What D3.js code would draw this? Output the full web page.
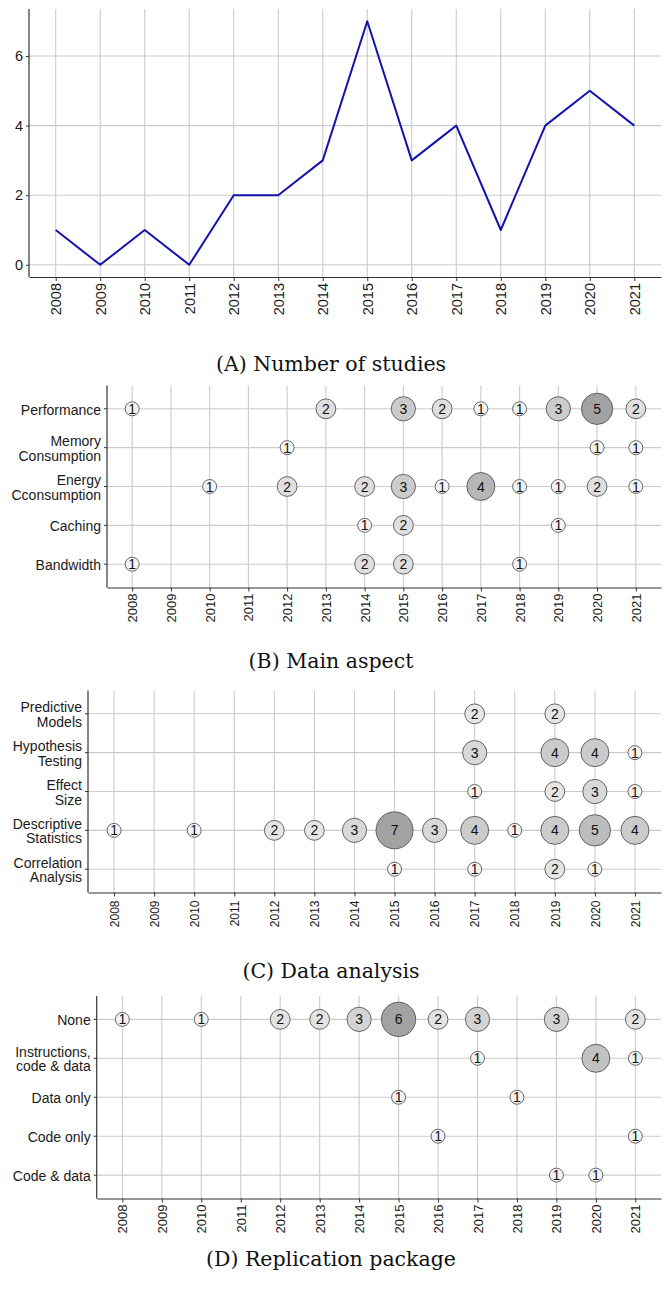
<!DOCTYPE html>
<html>
<head>
<meta charset="utf-8">
<script src="https://cdn.jsdelivr.net/npm/d3@7"></script>
<style>
  body { margin: 0; background: #fff; }
  svg { display: block; }
</style>
</head>
<body>
<svg id="fig" width="667" height="1290"></svg>
<script>
// ---- data ----
const years = [2008, 2009, 2010, 2011, 2012, 2013, 2014, 2015, 2016, 2017, 2018, 2019, 2020, 2021];
const studiesPerYear = [1, 0, 1, 0, 2, 2, 3, 7, 3, 4, 1, 4, 5, 4];
const studyTicks = [0, 2, 4, 6];

const aspectCategories = ["Performance", "Memory\nConsumption", "Energy\nCconsumption", "Caching", "Bandwidth"];
const aspectCounts = [
  ["Performance", 2008, 1], ["Performance", 2013, 2], ["Performance", 2015, 3], ["Performance", 2016, 2],
  ["Performance", 2017, 1], ["Performance", 2018, 1], ["Performance", 2019, 3], ["Performance", 2020, 5],
  ["Performance", 2021, 2],
  ["Memory\nConsumption", 2012, 1], ["Memory\nConsumption", 2020, 1], ["Memory\nConsumption", 2021, 1],
  ["Energy\nCconsumption", 2010, 1], ["Energy\nCconsumption", 2012, 2], ["Energy\nCconsumption", 2014, 2],
  ["Energy\nCconsumption", 2015, 3], ["Energy\nCconsumption", 2016, 1], ["Energy\nCconsumption", 2017, 4],
  ["Energy\nCconsumption", 2018, 1], ["Energy\nCconsumption", 2019, 1], ["Energy\nCconsumption", 2020, 2],
  ["Energy\nCconsumption", 2021, 1],
  ["Caching", 2014, 1], ["Caching", 2015, 2], ["Caching", 2019, 1],
  ["Bandwidth", 2008, 1], ["Bandwidth", 2014, 2], ["Bandwidth", 2015, 2], ["Bandwidth", 2018, 1]
];

const analysisCategories = ["Predictive\nModels", "Hypothesis\nTesting", "Effect\nSize", "Descriptive\nStatistics", "Correlation\nAnalysis"];
const analysisCounts = [
  ["Predictive\nModels", 2017, 2], ["Predictive\nModels", 2019, 2],
  ["Hypothesis\nTesting", 2017, 3], ["Hypothesis\nTesting", 2019, 4], ["Hypothesis\nTesting", 2020, 4],
  ["Hypothesis\nTesting", 2021, 1],
  ["Effect\nSize", 2017, 1], ["Effect\nSize", 2019, 2], ["Effect\nSize", 2020, 3], ["Effect\nSize", 2021, 1],
  ["Descriptive\nStatistics", 2008, 1], ["Descriptive\nStatistics", 2010, 1], ["Descriptive\nStatistics", 2012, 2],
  ["Descriptive\nStatistics", 2013, 2], ["Descriptive\nStatistics", 2014, 3], ["Descriptive\nStatistics", 2015, 7],
  ["Descriptive\nStatistics", 2016, 3], ["Descriptive\nStatistics", 2017, 4], ["Descriptive\nStatistics", 2018, 1],
  ["Descriptive\nStatistics", 2019, 4], ["Descriptive\nStatistics", 2020, 5], ["Descriptive\nStatistics", 2021, 4],
  ["Correlation\nAnalysis", 2015, 1], ["Correlation\nAnalysis", 2017, 1], ["Correlation\nAnalysis", 2019, 2],
  ["Correlation\nAnalysis", 2020, 1]
];

const packageCategories = ["None", "Instructions,\ncode & data", "Data only", "Code only", "Code & data"];
const packageCounts = [
  ["None", 2008, 1], ["None", 2010, 1], ["None", 2012, 2], ["None", 2013, 2], ["None", 2014, 3],
  ["None", 2015, 6], ["None", 2016, 2], ["None", 2017, 3], ["None", 2019, 3], ["None", 2021, 2],
  ["Instructions,\ncode & data", 2017, 1], ["Instructions,\ncode & data", 2020, 4], ["Instructions,\ncode & data", 2021, 1],
  ["Data only", 2015, 1], ["Data only", 2018, 1],
  ["Code only", 2016, 1], ["Code only", 2021, 1],
  ["Code & data", 2019, 1], ["Code & data", 2020, 1]
];

const captions = ["(A) Number of studies", "(B) Main aspect", "(C) Data analysis", "(D) Replication package"];

// ---- shared styling ----
const SANS = "'Liberation Sans', Arial, sans-serif";
const SERIF = "'DejaVu Serif', serif";
const GRID = "#cbcbcb";
const AXIS = "#333";
const TEXT = "#1a1a1a";
const svg = d3.select("#fig");

// bubble radius by count (area proportional to count)
const radius = d3.scaleSqrt().domain([0, 7]).range([0, 18.5]);

function drawXAxis(g, x, bottom, fontSize, gap) {
  const ax = d3.axisBottom(x).tickValues(years).tickFormat(d3.format("d")).tickSize(4).tickSizeOuter(0);
  const a = g.append("g").attr("transform", `translate(0,${bottom})`).call(ax);
  a.select(".domain").attr("stroke", AXIS).attr("stroke-width", 1.2);
  a.selectAll(".tick line").attr("stroke", AXIS).attr("stroke-width", 1);
  a.selectAll(".tick text")
    .attr("font-family", SANS).attr("font-size", fontSize).attr("fill", TEXT)
    .attr("transform", "rotate(-90)")
    .attr("x", -(4 + gap)).attr("y", 0).attr("dy", "0.35em")
    .attr("text-anchor", "end");
}

// ---- panel A: number of studies per year ----
(function () {
  const L = 29, R = 661, T = 9, B = 277;
  const x = d3.scaleLinear().domain([years[0] - 0.6, years[years.length - 1] + 0.6]).range([L, R]);
  const y = d3.scaleLinear().domain([-0.35, 7.35]).range([B, T]);
  const g = svg.append("g");

  g.selectAll("line.gy").data(studyTicks).join("line")
    .attr("x1", L).attr("x2", R).attr("y1", d => y(d)).attr("y2", d => y(d))
    .attr("stroke", GRID).attr("stroke-width", 1.1);
  g.selectAll("line.gx").data(years).join("line")
    .attr("y1", T).attr("y2", B).attr("x1", d => x(d)).attr("x2", d => x(d))
    .attr("stroke", GRID).attr("stroke-width", 1.1);

  const line = d3.line().x((d, i) => x(years[i])).y(d => y(d));
  g.append("path").datum(studiesPerYear).attr("d", line)
    .attr("fill", "none").attr("stroke", "#1212b0").attr("stroke-width", 2).attr("stroke-linejoin", "round");

  const ay = g.append("g").attr("transform", `translate(${L},0)`)
    .call(d3.axisLeft(y).tickValues(studyTicks).tickSize(3).tickSizeOuter(0));
  ay.select(".domain").attr("stroke", AXIS).attr("stroke-width", 1.2).attr("d", `M0,${T}V${B}`);
  ay.selectAll(".tick line").attr("stroke", AXIS);
  ay.selectAll(".tick text").attr("font-family", SANS).attr("font-size", 14.5).attr("fill", TEXT).attr("x", -6);

  drawXAxis(g, x, B, 14.5, 2);
})();

// ---- bubble panels (B, C, D) ----
function bubblePanel(cfg) {
  const { L, R, T, B, cats, counts, xFont, gap } = cfg;
  const x = d3.scaleLinear().domain([years[0] - 0.65, years[years.length - 1] + 0.65]).range([L, R]);
  const y = d3.scaleLinear().domain([-0.6, cats.length - 0.4]).range([T, B]);
  const maxN = d3.max(counts, d => d[2]);
  const fill = d3.scaleLinear().domain([1, maxN]).range(["#f3f3f3", "#a2a2a2"]);
  const g = svg.append("g");

  g.selectAll("line.gy").data(cats).join("line")
    .attr("x1", L).attr("x2", R).attr("y1", (d, i) => y(i)).attr("y2", (d, i) => y(i))
    .attr("stroke", GRID).attr("stroke-width", 1.1);
  g.selectAll("line.gx").data(years).join("line")
    .attr("y1", T).attr("y2", B).attr("x1", d => x(d)).attr("x2", d => x(d))
    .attr("stroke", GRID).attr("stroke-width", 1.1);

  // y axis with category labels (multi-line where needed)
  g.append("line").attr("x1", L).attr("x2", L).attr("y1", T).attr("y2", B)
    .attr("stroke", AXIS).attr("stroke-width", 1.2);
  g.selectAll("line.ty").data(cats).join("line")
    .attr("x1", L - 3).attr("x2", L).attr("y1", (d, i) => y(i)).attr("y2", (d, i) => y(i))
    .attr("stroke", AXIS);
  const lab = g.selectAll("text.cat").data(cats).join("text")
    .attr("font-family", SANS).attr("font-size", 14).attr("fill", TEXT)
    .attr("text-anchor", "end");
  lab.each(function (d, i) {
    const lines = d.split("\n");
    const lh = 14.5;
    const y0 = y(i) + 1 - (lines.length - 1) * lh / 2;
    d3.select(this).selectAll("tspan").data(lines).join("tspan")
      .attr("x", L - 6).attr("y", (t, k) => y0 + k * lh).attr("dy", "0.35em").text(t => t);
  });

  drawXAxis(g, x, B, xFont, gap);

  const bub = g.selectAll("g.b").data(counts).join("g")
    .attr("transform", d => `translate(${x(d[1])},${y(cats.indexOf(d[0]))})`);
  bub.append("circle").attr("r", d => radius(d[2]))
    .attr("fill", d => fill(d[2])).attr("stroke", "#555").attr("stroke-width", 0.9);
  bub.append("text").text(d => d[2])
    .attr("text-anchor", "middle").attr("dy", "0.36em")
    .attr("font-family", SANS).attr("font-size", 14).attr("fill", "#111");
}

bubblePanel({ L: 107, R: 661, T: 385.5, B: 587.5, cats: aspectCategories, counts: aspectCounts, xFont: 13, gap: 2 });
bubblePanel({ L: 88, R: 661, T: 690.5, B: 892.5, cats: analysisCategories, counts: analysisCounts, xFont: 12, gap: 4 });
bubblePanel({ L: 96.7, R: 661, T: 996, B: 1198.5, cats: packageCategories, counts: packageCounts, xFont: 13, gap: 2 });

// ---- captions ----
const capY = [371, 668, 978, 1266];
svg.selectAll("text.cap").data(captions).join("text")
  .attr("x", 331).attr("y", (d, i) => capY[i])
  .attr("text-anchor", "middle")
  .attr("font-family", SERIF).attr("font-size", 20.5).attr("fill", "#111")
  .text(d => d);
</script>
</body>
</html>
